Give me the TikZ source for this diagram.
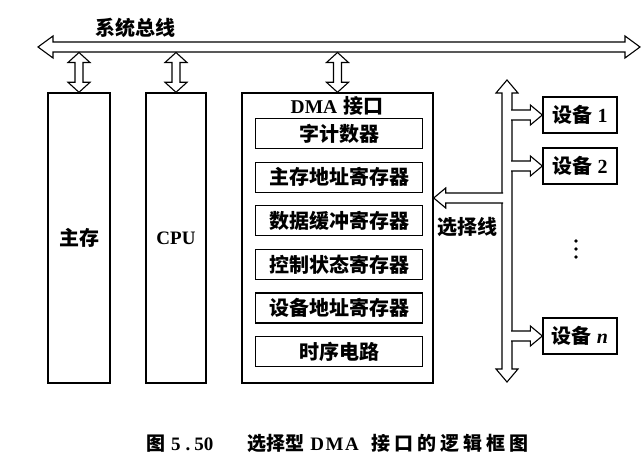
\documentclass[tikz,border=0pt]{standalone}
\usepackage{fontspec}
\setmainfont{Liberation Serif}
\newfontfamily\cjk{Noto Sans CJK SC}
\usetikzlibrary{calc}

\newcommand\zh[1]{{\cjk #1}}
% hollow double arrow, vertical: top, bottom, shaft half width, head half width, head length
\newcommand\vdarr[5]{%
\draw[blk] let \p1=(#1), \p2=(#2) in
(\x1,\y1) -- (\x1+#4,\y1-#5) -- (\x1+#3,\y1-#5) -- (\x1+#3,\y2+#5)
-- (\x1+#4,\y2+#5) -- (\x1,\y2) -- (\x1-#4,\y2+#5) -- (\x1-#3,\y2+#5)
-- (\x1-#3,\y1-#5) -- (\x1-#4,\y1-#5) -- cycle;}
% hollow double arrow, horizontal: left, right, ...
\newcommand\hdarr[5]{%
\draw[blk] let \p1=(#1), \p2=(#2) in
(\x1,\y1) -- (\x1+#5,\y1+#4) -- (\x1+#5,\y1+#3) -- (\x2-#5,\y1+#3)
-- (\x2-#5,\y1+#4) -- (\x2,\y1) -- (\x2-#5,\y1-#4) -- (\x2-#5,\y1-#3)
-- (\x1+#5,\y1-#3) -- (\x1+#5,\y1-#4) -- cycle;}
% open branch arrow from a bus edge to a tip
\newcommand\branch[5]{%
\draw[blk] let \p1=(#1), \p2=(#2), \n1={sign(\x2-\x1)} in
(\x1,\y2+#3) -- (\x2-\n1*#5,\y2+#3) -- (\x2-\n1*#5,\y2+#4) -- (\x2,\y2)
-- (\x2-\n1*#5,\y2-#4) -- (\x2-\n1*#5,\y2-#3) -- (\x1,\y2-#3);}

\begin{document}
\begin{tikzpicture}[x=1pt,y=-1pt,font=\bfseries\fontsize{20}{24}\selectfont,
box/.style={draw,line width=1.4pt,inner sep=0pt},
reg/.style={draw,line width=1.3pt,minimum width=167pt,minimum height=30pt,inner sep=0pt},
dev/.style={draw,line width=1.3pt,minimum width=74pt,minimum height=36pt,inner sep=0pt},
blk/.style={draw,line width=1.1pt,fill=white,line join=miter}]
\useasboundingbox (0,0) rectangle (643,462);
%System bus
\coordinate (busL) at (38,47);
\coordinate (busR) at (640,47);
\coordinate (busB) at (0,52.5);
\node (buslbl) at (135,28) {\zh{系统总线}};
%Main memory, CPU
\node[box,minimum width=62pt,minimum height=290pt] (main) at (79,238) {\zh{主存}};
\node[box,minimum width=60pt,minimum height=290pt,font=\bfseries\fontsize{19}{22}\selectfont] (cpu) at (176,238) {CPU};
%DMA interface
\node[box,minimum width=191pt,minimum height=290pt] (dma) at (337.5,238) {};
\node (dmat) at (337,106) {\fontsize{19.5}{22}\selectfont DMA\kern6pt\zh{\fontsize{20}{22}\selectfont 接口}};
\foreach \t [count=\i] in {字计数器,主存地址寄存器,数据缓冲寄存器,控制状态寄存器,设备地址寄存器,时序电路}
\node[reg] (r\i) at (339,90+43.6*\i) {\zh{\t}};
%Devices
\node[dev] (dev1) at (580,115) {\zh{设备}\ 1};
\node[dev] (dev2) at (580,166) {\zh{设备}\ 2};
\node[dev] (devn) at (580,336) {\zh{设备}\ \textit{n}};
\foreach \y in {241,249,257}
\fill (576,\y) circle (1.8);
%Arrows
\hdarr{busL}{busR}{5pt}{11pt}{15pt}
\vdarr{main.north |- busB}{main.north}{4pt}{11pt}{10pt}
\vdarr{cpu.north |- busB}{cpu.north}{4pt}{11pt}{10pt}
\vdarr{dma.north |- busB}{dma.north}{4pt}{11pt}{10pt}
%Select line
\coordinate (selT) at (507,80);
\coordinate (selB) at (507,382);
\coordinate (selL) at (503,0);
\coordinate (selR) at (511,0);
\vdarr{selT}{selB}{5pt}{11pt}{13pt}
\branch{selL}{dma.east |- 0,198}{5pt}{10pt}{12pt}
\node (sellbl) at (467,227) {\zh{选择线}};
\branch{selR}{dev1.west}{5pt}{10pt}{12pt}
\branch{selR}{dev2.west}{5pt}{10pt}{12pt}
\branch{selR}{devn.west}{5pt}{10pt}{12pt}
%Caption
\node[anchor=west,inner sep=0pt,font=\bfseries\fontsize{19}{22}\selectfont] (cap) at (146,443)
{\zh{图}\kern6pt 5\kern5pt.\kern4pt 50\kern34pt\zh{选择型}\kern6pt D\kern1.5pt M\kern1.5pt A\kern13pt\zh{接\kern4pt 口\kern4pt 的\kern4pt 逻\kern4pt 辑\kern4pt 框\kern4pt 图}};
\end{tikzpicture}
\end{document}
